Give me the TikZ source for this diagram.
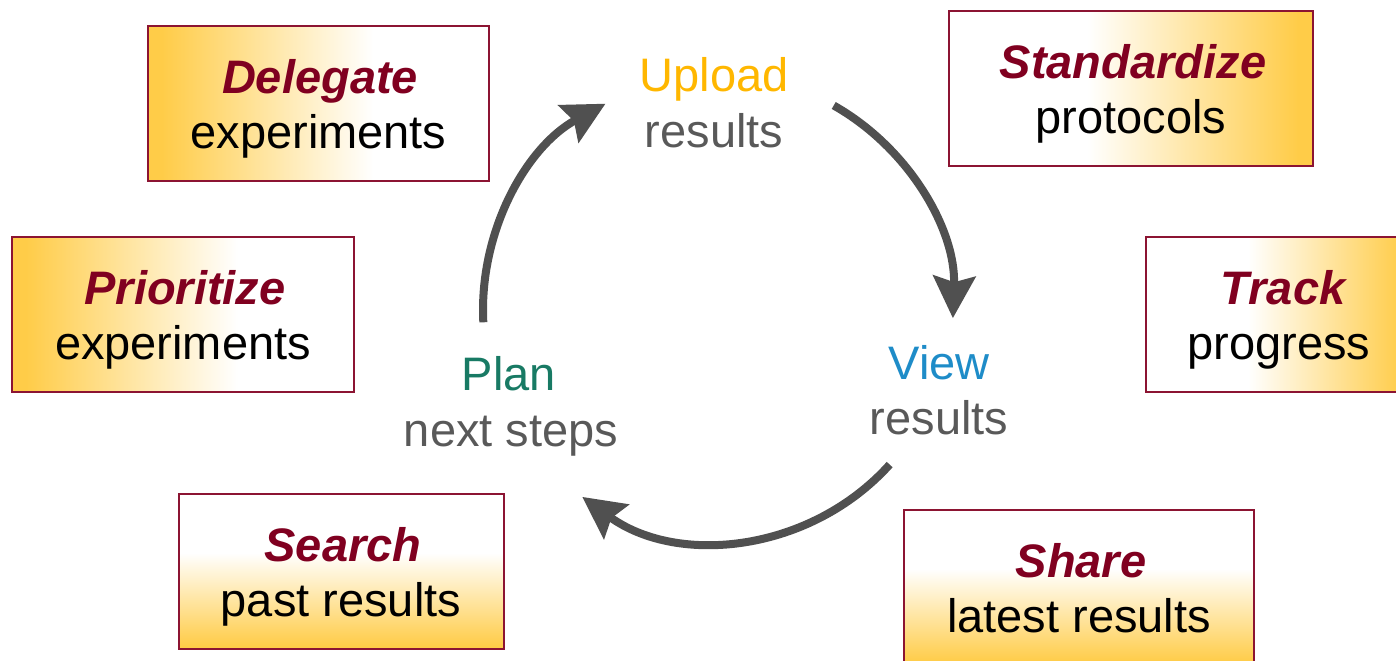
\documentclass[tikz,border=0pt]{standalone}
\usepackage{fontspec}
\setmainfont{Liberation Sans}
\usetikzlibrary{arrows.meta}
\definecolor{boxgold}{RGB}{255,204,72}
\definecolor{boxred}{RGB}{140,20,50}
\definecolor{titlered}{RGB}{128,0,32}
\definecolor{uploadc}{RGB}{255,183,0}
\definecolor{viewc}{RGB}{30,140,200}
\definecolor{planc}{RGB}{24,122,100}
\definecolor{graytext}{RGB}{89,89,89}
\definecolor{arrowgray}{RGB}{80,80,80}
\pgfdeclarehorizontalshading{goldleft}{100bp}{color(0bp)=(boxgold); color(27bp)=(boxgold); color(58bp)=(white); color(100bp)=(white)}
\pgfdeclarehorizontalshading{goldright}{100bp}{color(0bp)=(white); color(44bp)=(white); color(73bp)=(boxgold); color(100bp)=(boxgold)}
\pgfdeclareverticalshading{goldbottom}{100bp}{color(0bp)=(boxgold); color(26bp)=(boxgold); color(56bp)=(white); color(100bp)=(white)}
\tikzset{
  sidebox/.style={draw=boxred, line width=1pt, shade, inner sep=0pt, minimum height=77.5pt},
  boxtitle/.style={font=\fontsize{23.5}{28}\selectfont\bfseries\itshape, text=titlered, anchor=base, inner sep=0pt},
  boxsub/.style={font=\fontsize{23.5}{28}\selectfont, text=black, anchor=base, inner sep=0pt},
  cyctitle/.style={font=\fontsize{23.5}{28}\selectfont, anchor=base, inner sep=0pt},
  cycsub/.style={font=\fontsize{23.5}{28}\selectfont, text=graytext, anchor=base, inner sep=0pt},
  cycarrow/.style={draw=arrowgray, line width=4pt, -{Stealth[length=21pt,width=21pt,inset=3pt]}}
}
\begin{document}
\begin{tikzpicture}[x=0.5pt,y=-0.5pt]
\useasboundingbox (0,0) rectangle (1396,660);
\clip (0,0) rectangle (1396,660);
% side boxes
\node[sidebox, shading=goldleft, minimum width=170.5pt] (delbox) at (318.5,103.5) {};
\node[boxtitle] (deltitle) at (320,93) {Delegate};
\node[boxsub] (delsub) at (318.5,148) {experiments};

\node[sidebox, shading=goldright, minimum width=182pt] (stdbox) at (1131,88.5) {};
\node[boxtitle] (stdtitle) at (1133,78) {Standardize};
\node[boxsub] (stdsub) at (1131,133) {protocols};

\node[sidebox, shading=goldleft, minimum width=171pt] (pribox) at (183,314.5) {};
\node[boxtitle] (prititle) at (185,304) {Prioritize};
\node[boxsub] (prisub) at (183,359) {experiments};

\node[sidebox, shading=goldright, minimum width=134pt] (trkbox) at (1280,314.5) {};
\node[boxtitle] (trktitle) at (1283,304) {Track};
\node[boxsub] (trksub) at (1279,359) {progress};

\node[sidebox, shading=goldbottom, minimum width=162.5pt] (srchbox) at (341,571.5) {};
\node[boxtitle] (srchtitle) at (343,561) {Search};
\node[boxsub] (srchsub) at (341,616) {past results};

\node[sidebox, shading=goldbottom, minimum width=175pt] (shrbox) at (1079,587.5) {};
\node[boxtitle] (shrtitle) at (1081,577) {Share};
\node[boxsub] (shrsub) at (1079,632) {latest results};

% cycle labels
\node[cyctitle, text=uploadc] (upload) at (714,91) {Upload};
\node[cycsub] (uploadsub) at (714,147) {results};
\node[cyctitle, text=viewc] (view) at (939,379) {View};
\node[cycsub] (viewsub) at (939,434) {results};
\node[cyctitle, text=planc] (plan) at (509,390) {Plan};
\node[cycsub] (plansub) at (511,446) {next steps};

% cycle arrows
\coordinate (cyc) at (718,310);
\coordinate (a1s) at ([shift={(177:235)}]cyc);
\coordinate (a2s) at ([shift={(299.5:235)}]cyc);
\coordinate (a3s) at ([shift={(42:231)}]cyc);
\draw[cycarrow] (a1s) arc[start angle=177, end angle=241.4, radius=235];
\draw[cycarrow] (a2s) arc[start angle=299.5, end angle=362, radius=235];
\draw[cycarrow] (a3s) arc[start angle=42, end angle=126, radius=231];
\end{tikzpicture}
\end{document}
